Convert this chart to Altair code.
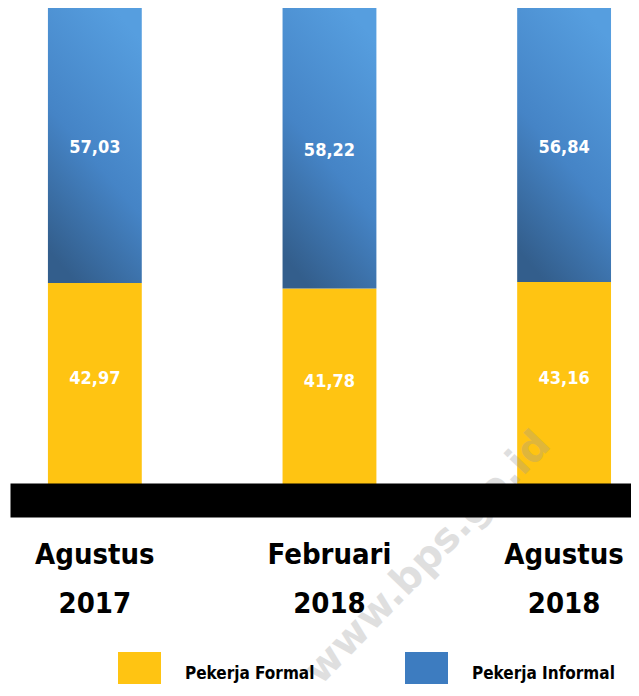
import altair as alt
import pandas as pd

periods = ["Agustus 2017", "Februari 2018", "Agustus 2018"]
formal = [42.97, 41.78, 43.16]
informal = [57.03, 58.22, 56.84]
series = ["Pekerja Formal", "Pekerja Informal"]
series_colors = ["#FFC412", "#3D7CC0"]
watermark = ["www.bps.go.id"]

FONT = "DejaVu Sans Condensed, Liberation Sans, sans-serif"

df = pd.DataFrame({"period": periods, "formal": formal, "informal": informal})
df["total"] = df["formal"] + df["informal"]
df["formal_lbl"] = [f"{v:.2f}".replace(".", ",") for v in formal]
df["informal_lbl"] = [f"{v:.2f}".replace(".", ",") for v in informal]
df["formal_mid"] = df["formal"] / 2
df["informal_mid"] = df["formal"] + df["informal"] / 2

x = alt.X(
    "period:N",
    sort=periods,
    title=None,
    scale=alt.Scale(paddingInner=0.6, paddingOuter=0.1234, align=0.655),
    axis=alt.Axis(
        labelExpr="split(datum.label, ' ')",
        labelAngle=0,
        ticks=False,
        grid=False,
        domainColor="black",
        domainWidth=34,
        domainCap="butt",
        offset=10,
        labelPadding=40,
        labelFont=FONT,
        labelFontSize=29,
        labelFontWeight="bold",
        labelColor="black",
        labelLineHeight=49,
        labelBaseline="top",
        zindex=1,
    ),
)
yscale = alt.Scale(domain=[0, 100], nice=False)

base = alt.Chart(df)

formal_bars = base.mark_bar(color=series_colors[0]).encode(
    x=x, y=alt.Y("formal:Q", scale=yscale, axis=None)
)

blue_grad = alt.Gradient(
    gradient="linear",
    stops=[
        alt.GradientStop(color="#569EDF", offset=0),
        alt.GradientStop(color="#4584C6", offset=0.55),
        alt.GradientStop(color="#335E8C", offset=1),
    ],
    x1=0.7, y1=0, x2=0.3, y2=1,
)
informal_bars = base.mark_bar(color=blue_grad).encode(
    x=x, y=alt.Y("total:Q", scale=yscale, axis=None), y2="formal:Q"
)

formal_text = base.mark_text(
    color="white", font=FONT, fontSize=18, fontWeight="bold", dy=-7, baseline="middle"
).encode(x=x, y=alt.Y("formal_mid:Q", scale=yscale, axis=None), text="formal_lbl:N")

informal_text = base.mark_text(
    color="white", font=FONT, fontSize=18, fontWeight="bold", dy=3, baseline="middle"
).encode(x=x, y=alt.Y("informal_mid:Q", scale=yscale, axis=None), text="informal_lbl:N")

legend_layer = alt.Chart(pd.DataFrame({"series": series})).mark_square(size=0).encode(
    color=alt.Color(
        "series:N",
        scale=alt.Scale(domain=series, range=series_colors),
        legend=alt.Legend(
            title=None,
            orient="none",
            legendX=108,
            legendY=644,
            direction="horizontal",
            symbolType="square",
            symbolSize=1849,
            symbolStrokeWidth=0,
            symbolOpacity=1,
            labelFont=FONT,
            labelFontSize=17,
            labelFontWeight="bold",
            labelColor="black",
            labelOffset=24,
            columnPadding=90,
            labelLimit=300,
        ),
    )
)

wm = alt.Chart(pd.DataFrame({"t": watermark})).mark_text(
    angle=314, fontSize=40, fontWeight="bold", color="#999999", opacity=0.3,
    font="DejaVu Sans", align="center", baseline="middle"
).encode(text="t:N", x=alt.value(418), y=alt.value(550))

chart = alt.layer(
    formal_bars, informal_bars, formal_text, informal_text, legend_layer, wm
).properties(
    width=621,
    height=482,
    padding={"left": 2, "top": 0, "right": 0, "bottom": 194},
    autosize=alt.AutoSizeParams(type="none"),
).configure_view(stroke=None)

chart.save("out.html", embed_options={"renderer": "svg", "actions": False})
